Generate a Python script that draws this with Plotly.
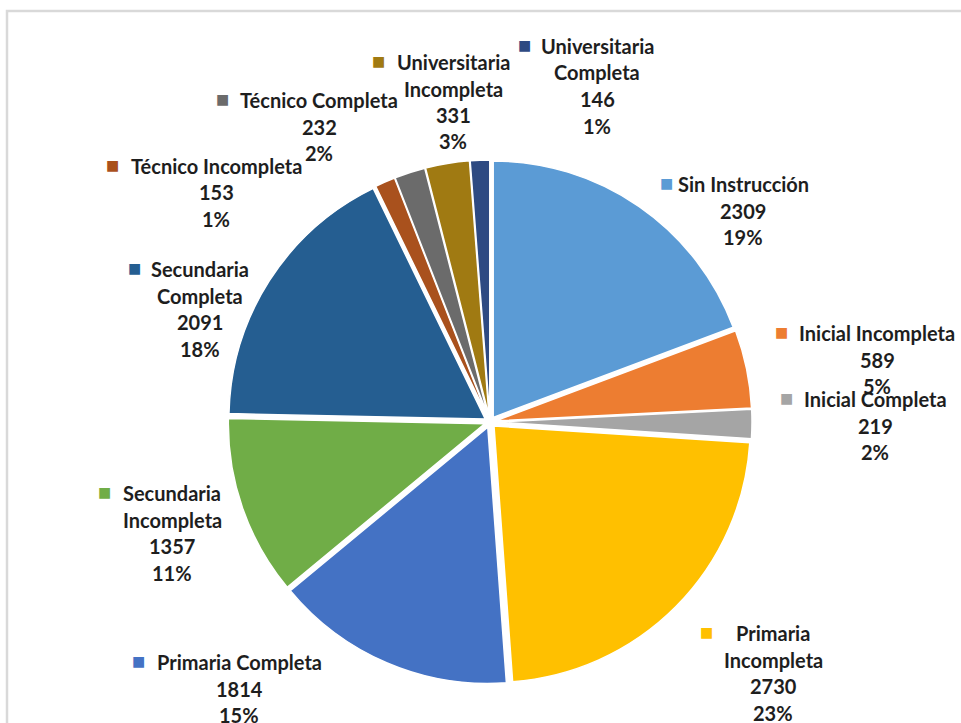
import plotly.graph_objects as go

categories = ["Sin Instrucción", "Inicial Incompleta", "Inicial Completa",
              "Primaria Incompleta", "Primaria Completa", "Secundaria Incompleta",
              "Secundaria Completa", "Técnico Incompleta", "Técnico Completa",
              "Universitaria Incompleta", "Universitaria Completa"]
values = [2309, 589, 219, 2730, 1814, 1357, 2091, 153, 232, 331, 146]
percent_labels = ["19%", "5%", "2%", "23%", "15%", "11%", "18%", "1%", "2%", "3%", "1%"]
colors = ["#5B9BD5", "#ED7D31", "#A5A5A5", "#FFC000", "#4472C4", "#70AD47",
          "#255E91", "#A9511D", "#6B6B6B", "#A07A12", "#2E4A82"]
# how each category name is broken into lines in the labels
name_lines = [["Sin Instrucción"], ["Inicial Incompleta"], ["Inicial Completa"],
              ["Primaria", "Incompleta"], ["Primaria Completa"], ["Secundaria", "Incompleta"],
              ["Secundaria", "Completa"], ["Técnico Incompleta"], ["Técnico Completa"],
              ["Universitaria", "Incompleta"], ["Universitaria", "Completa"]]

W, H = 961, 723
# label placement in pixels: text centre x, first line y, key-square centre x
label_pos = [(743, 184, 666), (877, 333, 781), (875, 399, 786), (773, 633, 706),
             (239, 662, 138), (172, 493, 104), (200, 269, 134), (216, 166, 112),
             (319, 100, 222), (453, 62, 378), (597, 46, 524)]
LINE = 26.5
FONT = "Lato, 'Open Sans', sans-serif"
TXT = "#1e1e1e"

fig = go.Figure(go.Pie(
    labels=categories, values=values, sort=False, direction="clockwise", rotation=0,
    marker=dict(colors=colors, line=dict(color="white", width=1.5)),
    pull=[0.022] * len(values), textinfo="none", hoverinfo="skip", showlegend=False,
    domain=dict(x=[228 / W, 752 / W], y=[1 - 684 / H, 1 - 160 / H]),
))

annotations = []
for i, cat in enumerate(categories):
    cx, y0, mx = label_pos[i]
    lines = name_lines[i] + [str(values[i]), percent_labels[i]]
    for k, ln in enumerate(lines):
        annotations.append(dict(
            x=cx / W, y=1 - (y0 + k * LINE) / H, xref="paper", yref="paper",
            text="<b>%s</b>" % ln, showarrow=False, xanchor="center", yanchor="middle",
            font=dict(family=FONT, size=20, color=TXT)))
    annotations.append(dict(
        x=mx / W, y=1 - (y0 - 1) / H, xref="paper", yref="paper",
        text="■", showarrow=False, xanchor="center", yanchor="middle",
        font=dict(family="DejaVu Sans", size=14, color=colors[i])))

fig.update_layout(
    width=W, height=H, margin=dict(l=0, r=0, t=0, b=0),
    paper_bgcolor="white", plot_bgcolor="white",
    annotations=annotations,
    shapes=[dict(type="rect", xref="paper", yref="paper",
                 x0=7 / W, x1=1.05, y0=-0.05, y1=1 - 11 / H,
                 line=dict(color="#D9D9D9", width=2.5), fillcolor="rgba(0,0,0,0)")],
)
fig.write_html("out.html", config={"displayModeBar": False},
               post_script="document.body.style.margin='0';document.body.style.overflow='hidden';")
